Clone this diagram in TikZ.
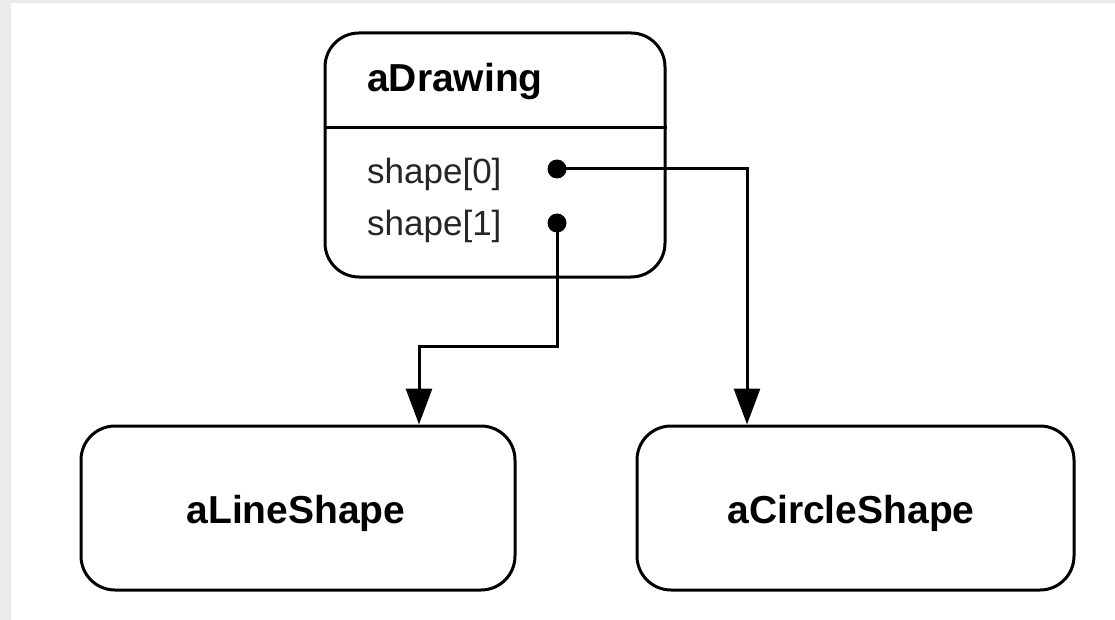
\documentclass[tikz,border=0pt]{standalone}
\usepackage{fontspec}
\setmainfont{Liberation Sans}
\usetikzlibrary{arrows.meta}
\definecolor{framegray}{HTML}{EBEBEB}
\tikzset{
  objbox/.style={draw=black, line width=3pt, rounded corners=34pt, inner sep=0pt},
  ref/.style={draw=black, line width=3pt, -{Triangle[width=26pt,length=36pt]}},
  slotdot/.style={circle, fill=black, inner sep=0pt, minimum size=19pt},
  title/.style={font=\fontsize{39}{44}\selectfont\bfseries, inner sep=0pt},
  slot/.style={font=\fontsize{35}{40}\selectfont, inner sep=0pt, text=black!85},
}
\begin{document}
\begin{tikzpicture}[x=1pt, y=-1pt]
  \useasboundingbox (0,0) rectangle (1115,620);
  \fill[white] (0,0) rectangle (1115,620);
  % window frame strips
  \fill[framegray] (0,0) rectangle (1115,3);
  \fill[framegray] (0,0) rectangle (11,620);

  % object boxes
  \node[objbox, minimum width=340pt, minimum height=244pt] (drw) at (495,155) {};
  \node[objbox, minimum width=434pt, minimum height=164pt] (lin) at (298,508) {};
  \node[objbox, minimum width=437pt, minimum height=164pt] (circ) at (855.5,508) {};

  % compartment divider in aDrawing
  \coordinate (divl) at (drw.west |- 0,128);
  \coordinate (divr) at (drw.east |- 0,128);
  \draw[line width=3pt] (divl) -- (divr);

  % labels
  \node[title, anchor=base west] (tdrw) at (367,92) {aDrawing};
  \node[slot, anchor=base west] (s0) at (367,184) {shape[0]};
  \node[slot, anchor=base west] (s1) at (367,236) {shape[1]};
  \node[title] (tlin) at (296,513) {aLineShape};
  \node[title] (tcirc) at (851,513) {aCircleShape};

  % reference slots
  \node[slotdot] (d0) at (557,169) {};
  \node[slotdot] (d1) at (557,223) {};

  % references to the shapes
  \draw[ref] (d0.center) -| ([xshift=-108.5pt]circ.north);
  \draw[ref] (d1.center) -- ++(0,123) -| ([xshift=121pt]lin.north);
\end{tikzpicture}
\end{document}
